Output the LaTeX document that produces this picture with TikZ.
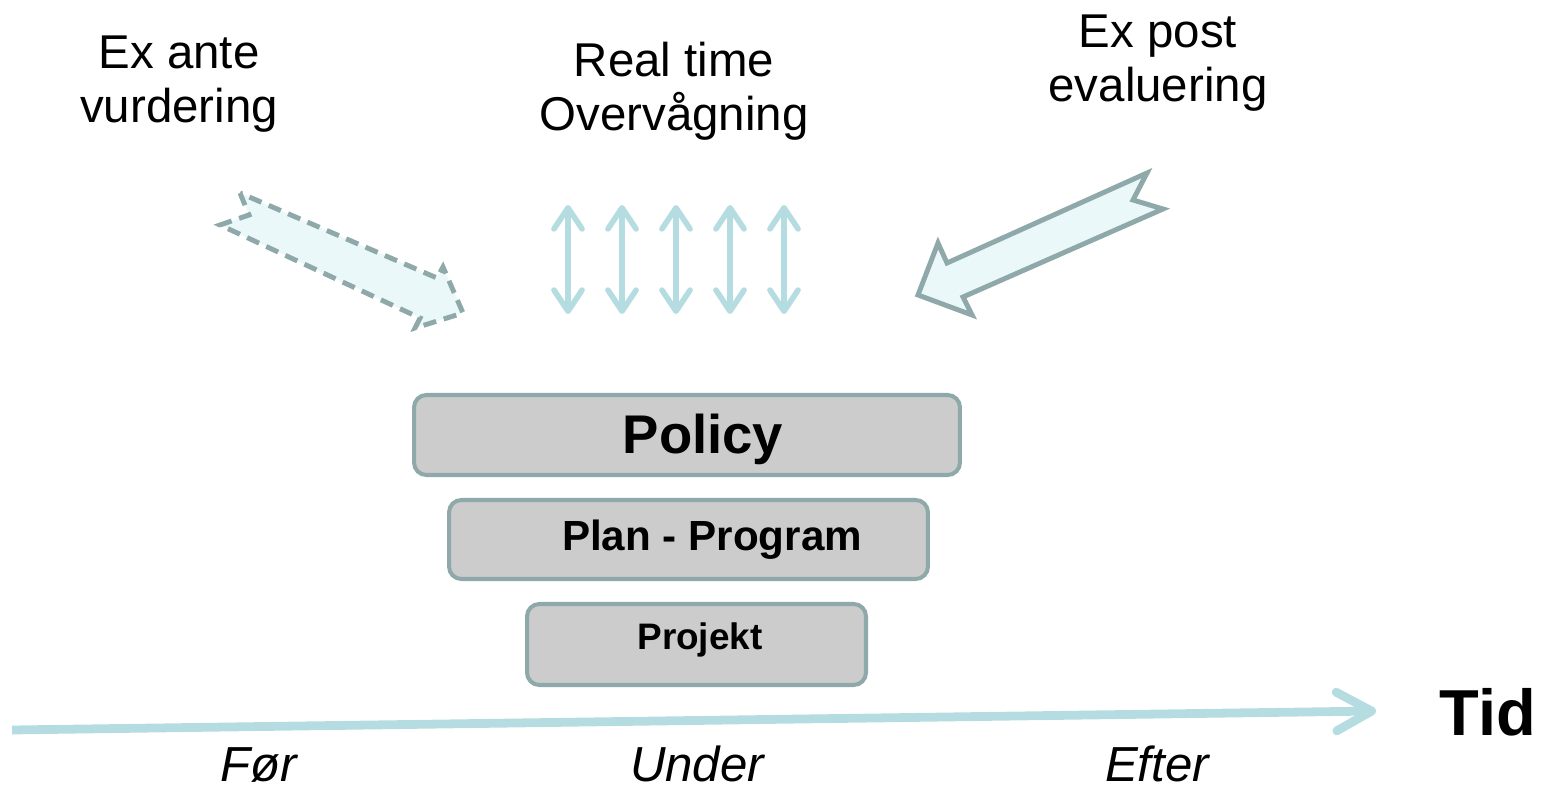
\documentclass[tikz,border=0pt]{standalone}
\usepackage{fontspec}
\setmainfont{Liberation Sans}
\usetikzlibrary{arrows.meta}
\definecolor{edgegrey}{HTML}{8FA8A9}
\definecolor{boxgrey}{HTML}{CCCCCC}
\definecolor{paleteal}{HTML}{B5DDE1}
\definecolor{arrowfill}{HTML}{EBF8F9}
\tikzset{
  tierbox/.style={draw=edgegrey, fill=boxgrey, line width=2.3pt, rounded corners=7pt},
  bigarrow/.style={draw=edgegrey, fill=arrowfill, line width=2.8pt, line join=miter},
  heading/.style={align=center, font=\fontsize{27}{31}\selectfont},
  period/.style={anchor=base, inner sep=0pt, font=\itshape\fontsize{28}{34}\selectfont},
  flow/.style={paleteal, line width=3.2pt, line cap=round,
    {Straight Barb[length=12pt,width=16pt,round]}-{Straight Barb[length=12pt,width=16pt,round]}},
  timeline/.style={paleteal, line width=5pt, -{Straight Barb[length=20pt,width=22pt,round]}}
}
\begin{document}
\begin{tikzpicture}[x=0.02cm,y=-0.02cm]
\useasboundingbox (0,0) rectangle (1544,793);
\node[heading] (exante) at (179,84) {Ex ante\\vurdering};
\node[heading] (realtime) at (674,91) {Real time\\Overvågning};
\node[heading] (expost) at (1158,63) {Ex post\\evaluering};
\draw[bigarrow, dash pattern=on 7.5pt off 4.5pt] (240,193) -- (249,215) -- (220,225) -- (420,318) -- (415,328) -- (463,313) -- (443,267) -- (437,278) -- cycle;
\draw[bigarrow] (1147,173) -- (1133,200) -- (1163,209) -- (963,297) -- (972,315) -- (918,295) -- (938,243) -- (947,263) -- cycle;
\foreach \x [count=\i] in {568,622,676,730,784} {
  \coordinate (up\i) at (\x,205);
  \coordinate (dn\i) at (\x,314);
  \draw[flow] (up\i) -- (dn\i);
}
\node[tierbox, minimum width=10.92cm, minimum height=1.6cm, text height=28pt, font=\bfseries\fontsize{31}{37}\selectfont] (policy) at (687,435) {\hspace*{0.64cm}Policy};
\node[tierbox, minimum width=9.58cm, minimum height=1.58cm, font=\bfseries\fontsize{24}{29}\selectfont] (plan) at (688.5,539.5) {\hspace*{0.94cm}Plan - Program};
\node[tierbox, minimum width=6.78cm, minimum height=1.62cm, text depth=10pt, font=\bfseries\fontsize{21}{25}\selectfont] (projekt) at (696.5,644.5) {\hspace*{0.14cm}Projekt};
\coordinate (t0) at (12,730);
\coordinate (t1) at (1376,711);
\draw[timeline] (t0) -- (t1);
\node[anchor=base, font=\bfseries\fontsize{37}{44}\selectfont] (tid) at (1488,735) {Tid};
\node[period] (foer) at (259,781) {Før};
\node[period] (under) at (697,781) {Under};
\node[period] (efter) at (1157,781) {Efter};
\end{tikzpicture}
\end{document}
